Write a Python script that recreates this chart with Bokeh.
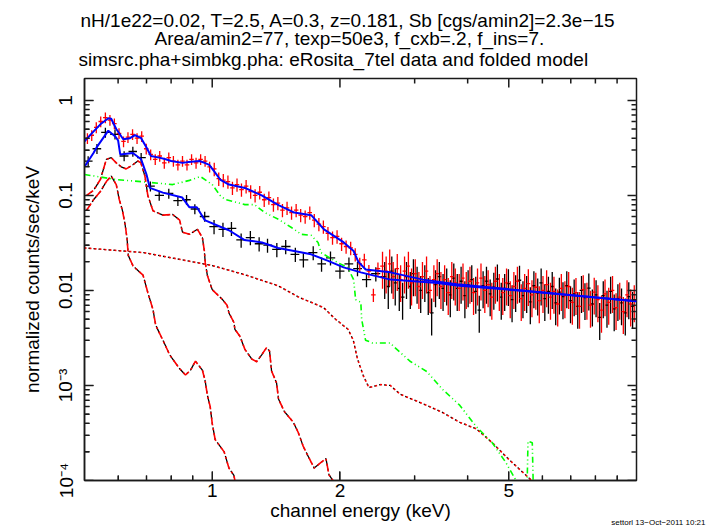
import numpy as np
from bokeh.plotting import figure
from bokeh.models import FixedTicker, Title
from bokeh.embed import file_html
from bokeh.resources import INLINE

FONT = "Liberation Sans"

# ---------------- folded models (blue) ----------------
mod_src_e = [0.50, 0.52, 0.545, 0.569, 0.578, 0.594, 0.617, 0.64, 0.658, 0.68, 0.70, 0.717, 0.75, 0.777,
             0.80, 0.851, 0.88, 0.933, 0.96, 0.984, 1.01, 1.044, 1.095, 1.194, 1.308, 1.433, 1.561, 1.711,
             1.834, 2.042, 2.154, 2.21, 2.30, 2.63, 3.14, 3.77, 5.37, 10.0]
mod_src_v = [0.37, 0.45, 0.56, 0.65, 0.64, 0.50, 0.39, 0.40, 0.43, 0.40, 0.32, 0.26, 0.25, 0.24,
             0.23, 0.22, 0.225, 0.23, 0.22, 0.21, 0.18, 0.147, 0.13, 0.12, 0.10, 0.079, 0.066, 0.062,
             0.044, 0.032, 0.026, 0.020, 0.0166, 0.0155, 0.013, 0.0116, 0.0100, 0.0077]

mod_bkg_e = [0.50, 0.525, 0.534, 0.569, 0.59, 0.60, 0.607, 0.65, 0.68, 0.70, 0.713, 0.765, 0.85, 0.884,
             0.92, 0.96, 1.055, 1.095, 1.19, 1.31, 1.43, 1.56, 1.71, 1.87, 2.04, 2.24, 2.63, 3.4, 3.77,
             5.37, 10.0]
mod_bkg_v = [0.20, 0.28, 0.32, 0.48, 0.42, 0.38, 0.27, 0.28, 0.24, 0.166, 0.12, 0.107, 0.095, 0.075,
             0.075, 0.055, 0.046, 0.043, 0.034, 0.032, 0.028, 0.026, 0.024, 0.0206, 0.0175, 0.0155, 0.013,
             0.012, 0.0113, 0.0099, 0.0077]

# ---------------- model components ----------------
cluster_e = [0.50, 0.594, 0.713, 0.807, 0.884, 0.938, 1.0, 1.044, 1.072, 1.194, 1.259, 1.329, 1.433,
             1.537, 1.621, 1.711, 1.776, 1.805, 1.977, 2.086, 2.154, 2.178, 2.24, 2.25, 2.298, 2.386,
             2.63, 2.67, 2.925, 3.205, 3.49, 3.83, 4.19, 4.57, 4.92, 5.2, 5.45, 5.52, 5.55, 5.68, 5.71, 6.0]
cluster_v = [0.166, 0.147, 0.137, 0.13, 0.144, 0.158, 0.13, 0.10, 0.091, 0.080, 0.080, 0.066, 0.056,
             0.046, 0.039, 0.038, 0.032, 0.025, 0.0196, 0.0175, 0.013, 0.008, 0.0075, 0.005, 0.003, 0.0028,
             0.0028, 0.0026, 0.0018, 0.0014, 0.00091, 0.00062, 0.00037, 0.00025, 0.000155, 0.0001,
             0.00007, 0.00008, 0.00026, 0.00025, 0.00009, 0.00005]

cxb_e = [0.50, 0.69, 1.0, 1.19, 1.43, 1.60, 1.83, 1.95, 2.09, 2.15, 2.20, 2.27, 2.34, 2.49, 2.63, 2.77,
         3.20, 3.49, 3.83, 4.19, 4.57, 5.0, 5.66, 6.0]
cxb_v = [0.028, 0.025, 0.0183, 0.0147, 0.0112, 0.0085, 0.0066, 0.005, 0.0039, 0.003, 0.0019, 0.00127,
         0.00095, 0.00102, 0.001, 0.00081, 0.00062, 0.00052, 0.00041, 0.00035, 0.00025, 0.000167,
         0.0001, 0.00007]

halo_e = [0.506, 0.525, 0.545, 0.563, 0.578, 0.594, 0.61, 0.627, 0.65, 0.668, 0.679, 0.694, 0.705, 0.725,
          0.765, 0.807, 0.838, 0.851, 0.884, 0.923, 0.948, 0.958, 0.963, 0.974, 1.0, 1.055, 1.084, 1.095,
          1.125, 1.131, 1.162, 1.194, 1.239, 1.273, 1.308, 1.343, 1.365, 1.38, 1.418, 1.433, 1.48, 1.553,
          1.595, 1.638, 1.683, 1.739, 1.805, 1.854, 1.884, 1.925, 2.0]
halo_v = [0.10, 0.113, 0.147, 0.24, 0.25, 0.22, 0.20, 0.19, 0.21, 0.23, 0.22, 0.16, 0.10, 0.069,
          0.062, 0.063, 0.055, 0.041, 0.039, 0.044, 0.036, 0.0263, 0.0195, 0.0144, 0.0102, 0.0081, 0.007,
          0.0058, 0.0046, 0.0039, 0.0033, 0.0024, 0.0019, 0.00178, 0.0021, 0.0025, 0.0023, 0.00142,
          0.00106, 0.00072, 0.00053, 0.00041, 0.00032, 0.00023, 0.00018, 0.000135, 0.000155, 0.00017,
          0.000115, 0.0001, 0.00007]

lhb_e = [0.506, 0.525, 0.545, 0.563, 0.578, 0.594, 0.604, 0.614, 0.623, 0.63, 0.634, 0.651, 0.687, 0.705,
         0.725, 0.736, 0.765, 0.794, 0.838, 0.865, 0.889, 0.913, 0.948, 0.963, 0.974, 0.989, 1.0, 1.016,
         1.067, 1.095, 1.125, 1.131, 1.16]
lhb_v = [0.07, 0.09, 0.11, 0.14, 0.16, 0.13, 0.09, 0.07, 0.05, 0.035, 0.0234, 0.018, 0.0145, 0.0095,
         0.0063, 0.0043, 0.003, 0.0021, 0.0015, 0.00129, 0.00145, 0.0018, 0.00145, 0.0011, 0.00079,
         0.0006, 0.0004, 0.00027, 0.0002, 0.000135, 0.000113, 0.0001, 0.00006]

# ---------------- data: simsrc (red) ----------------
src_e = [0.508, 0.520, 0.533, 0.546, 0.560, 0.574, 0.588, 0.603, 0.618, 0.633, 0.649, 0.665, 0.682,
         0.699, 0.716, 0.734, 0.752, 0.771, 0.790, 0.810, 0.830, 0.851, 0.872, 0.894, 0.916, 0.939,
         0.962, 0.986, 1.011, 1.036, 1.062, 1.089, 1.116, 1.144, 1.172, 1.202, 1.232, 1.262, 1.294,
         1.326, 1.360, 1.394, 1.428, 1.464, 1.501, 1.538, 1.577, 1.616, 1.656, 1.698, 1.740, 1.784,
         1.828, 1.874, 1.921, 1.969, 2.018, 2.068, 2.120, 2.173, 2.227, 2.283, 2.340, 2.398, 2.458,
         2.52, 2.57, 2.62, 2.67, 2.73, 2.78, 2.84, 2.90, 2.95, 3.01, 3.07, 3.13, 3.20, 3.26, 3.33,
         3.39, 3.46, 3.53, 3.60, 3.67, 3.74, 3.82, 3.90, 3.97, 4.05, 4.13, 4.22, 4.30, 4.39, 4.47,
         4.56, 4.65, 4.75, 4.84, 4.94, 5.04, 5.14, 5.24, 5.35, 5.45, 5.56, 5.67, 5.79, 5.90, 6.02,
         6.14, 6.27, 6.39, 6.52, 6.65, 6.78, 6.92, 7.06, 7.20, 7.34, 7.49, 7.64, 7.79, 7.95, 8.11,
         8.27, 8.43, 8.60, 8.78, 8.95, 9.13, 9.31, 9.50, 9.69, 9.88]
src_v = [0.40, 0.43, 0.52, 0.60, 0.66, 0.62, 0.57, 0.45, 0.37, 0.41, 0.44, 0.40, 0.42,
         0.31, 0.27, 0.24, 0.26, 0.22, 0.25, 0.23, 0.21, 0.23, 0.21, 0.24, 0.22, 0.24,
         0.23, 0.20, 0.19, 0.15, 0.145, 0.14, 0.12, 0.13, 0.115, 0.125, 0.11, 0.10, 0.108,
         0.090, 0.095, 0.080, 0.083, 0.070, 0.074, 0.066, 0.070, 0.062, 0.060, 0.066, 0.055, 0.050,
         0.047, 0.040, 0.036, 0.037, 0.031, 0.029, 0.028, 0.024, 0.019, 0.021, 0.016, 0.009, 0.017,
         0.018, 0.016, 0.019, 0.014, 0.017, 0.013, 0.016, 0.018, 0.012, 0.015, 0.011, 0.014, 0.016,
         0.010, 0.013, 0.015, 0.011, 0.013, 0.0095, 0.014, 0.012, 0.0105, 0.0135, 0.011, 0.0125,
         0.0095, 0.012, 0.0135, 0.010, 0.0115, 0.0085, 0.0125, 0.0105, 0.0095, 0.012, 0.0088, 0.0110,
         0.0125, 0.0082, 0.0105, 0.0118, 0.0090, 0.0108, 0.0078, 0.0100, 0.0115, 0.0085, 0.0098,
         0.0072, 0.0105, 0.0088, 0.0110, 0.0075, 0.0095, 0.0068, 0.0102, 0.0085, 0.0070, 0.0096,
         0.0080, 0.0062, 0.0092, 0.0075, 0.0100, 0.0066, 0.0085, 0.0060, 0.0090, 0.0072, 0.0080]

# ---------------- data: simbkg (black) ----------------
bkg_e = [0.51, 0.535, 0.56, 0.59, 0.62, 0.65, 0.68, 0.715, 0.75, 0.79, 0.83, 0.87, 0.91, 0.96, 1.01,
         1.06, 1.11, 1.17, 1.23, 1.29, 1.35, 1.42, 1.49, 1.57, 1.64, 1.73, 1.81, 1.90, 2.0, 2.1, 2.2,
         2.31, 2.43, 2.55, 2.60, 2.65, 2.70, 2.76, 2.81, 2.87, 2.93, 2.98, 3.04, 3.10, 3.17, 3.23,
         3.29, 3.36, 3.43, 3.50, 3.57, 3.64, 3.71, 3.78, 3.86, 3.94, 4.01, 4.09, 4.18, 4.26, 4.35,
         4.43, 4.52, 4.61, 4.70, 4.80, 4.89, 4.99, 5.09, 5.19, 5.30, 5.40, 5.51, 5.62, 5.73, 5.85,
         5.96, 6.08, 6.20, 6.33, 6.45, 6.58, 6.71, 6.85, 6.99, 7.13, 7.27, 7.42, 7.56, 7.72, 7.87,
         8.03, 8.19, 8.35, 8.52, 8.69, 8.86, 9.04, 9.22, 9.41, 9.59, 9.79]
bkg_v = [0.23, 0.31, 0.46, 0.44, 0.26, 0.29, 0.25, 0.125, 0.10, 0.105, 0.088, 0.09, 0.072, 0.06, 0.047,
         0.044, 0.045, 0.034, 0.036, 0.031, 0.030, 0.027, 0.029, 0.024, 0.021, 0.025, 0.019, 0.022,
         0.016, 0.019, 0.017, 0.013, 0.015, 0.014, 0.011, 0.016, 0.012, 0.0105, 0.0085, 0.014, 0.011,
         0.015, 0.0125, 0.010, 0.013, 0.0095, 0.0058, 0.0115, 0.014, 0.0105, 0.012, 0.009, 0.0135,
         0.0105, 0.0125, 0.0088, 0.0115, 0.013, 0.0098, 0.0062, 0.0112, 0.0125, 0.0092, 0.0108, 0.0132,
         0.0085, 0.0105, 0.0118, 0.0080, 0.0102, 0.0128, 0.0088, 0.0100, 0.0076, 0.0112, 0.0094,
         0.0120, 0.0082, 0.0098, 0.0110, 0.0074, 0.0096, 0.0086, 0.0112, 0.0078, 0.0092, 0.0068,
         0.0100, 0.0084, 0.0106, 0.0072, 0.0090, 0.0052, 0.0088, 0.0070, 0.0098, 0.0064, 0.0082,
         0.0074, 0.0058, 0.0086, 0.0068]

# relative 1-sigma error per energy band: (upper band edge keV, fraction)
src_err_bands = [(1.0, 0.13), (2.5, 0.16), (99.0, 0.42)]
bkg_err_bands = [(1.0, 0.12), (2.5, 0.17), (99.0, 0.42)]

X_MIN, X_MAX = 0.5, 10.0
Y_MIN, Y_MAX = 1e-4, 1.7
x_major = [1, 2, 5]
x_minor = [0.6, 0.7, 0.8, 0.9, 3, 4, 6, 7, 8, 9]
y_major = [1e-4, 1e-3, 1e-2, 1e-1, 1]
y_minor = [m * d for d in (1e-4, 1e-3, 1e-2, 1e-1, 1) for m in range(2, 10) if m * d < Y_MAX]
y_labels = {1e-4: "10\u207b\u2074", 1e-3: "10\u207b\u00b3", 1e-2: "0.01", 1e-1: "0.1", 1: "1"}

title_lines = ["nH/1e22=0.02, T=2.5, A=0.3, z=0.181, Sb [cgs/amin2]=2.3e\u221215",
               "Area/amin2=77, texp=50e3, f_cxb=.2, f_ins=7.",
               "simsrc.pha+simbkg.pha: eRosita_7tel data and folded model"]
footer = "settorl 13\u2212Oct\u22122011 10:21"

# page layout (pixels)
W, H = 713, 529
FL, FR, FT, FB = 84, 636, 78, 480
MAJ_LEN, MIN_LEN = 9, 5
AX_COL = "#1a1a1a"
# (offset from frame left, standoff) for title lines 1..3
title_place = [(-4, 8), (70, -18), (-6, 14)]

XDEC = np.log10(X_MAX / X_MIN) / (FR - FL)
YDEC = np.log10(Y_MAX / Y_MIN) / (FB - FT)


def bin_edges(e):
    e = np.asarray(e, dtype=float)
    mids = np.sqrt(e[1:] * e[:-1])
    lo = np.concatenate([[e[0] ** 2 / mids[0]], mids])
    hi = np.concatenate([mids, [e[-1] ** 2 / mids[-1]]])
    return lo, hi


def err_frac(e, bands):
    out = []
    for x in e:
        for top, f in bands:
            if x <= top:
                out.append(f)
                break
    return np.array(out)


p = figure(width=W, height=H, x_axis_type="log", y_axis_type="log",
           x_range=(X_MIN, X_MAX), y_range=(Y_MIN, Y_MAX),
           output_backend="svg", toolbar_location=None,
           min_border_left=FL, min_border_right=W - FR, min_border_top=FT, min_border_bottom=H - FB)
p.grid.visible = False
p.outline_line_color = AX_COL
p.outline_line_width = 1.5


def draw_data(e, v, bands, color):
    e = np.asarray(e, dtype=float)
    v = np.asarray(v, dtype=float)
    lo, hi = bin_edges(e)
    f = err_frac(e, bands)
    p.segment(x0=lo, y0=v, x1=hi, y1=v, line_color=color, line_width=1.3)
    p.segment(x0=e, y0=v * (1 - f), x1=e, y1=v * (1 + f), line_color=color, line_width=1.3)


draw_data(bkg_e, bkg_v, bkg_err_bands, "black")
draw_data(src_e, src_v, src_err_bands, "#ff0000")

# components: background (black, underneath) and source (red) copies
for col, off, lw in (("black", 6, 1.3), ("#ff0000", 0, 1.6)):
    p.line(cxb_e, cxb_v, line_color=col, line_width=lw, line_dash="2 3", line_dash_offset=off)
    p.line(halo_e, halo_v, line_color=col, line_width=lw, line_dash="8 3 2 3", line_dash_offset=off)
    p.line(lhb_e, lhb_v, line_color=col, line_width=lw, line_dash="8 3 2 3", line_dash_offset=off)

p.line(cluster_e, cluster_v, line_color="#00ff00", line_width=1.6, line_dash="6 3 1 3 1 3")

p.line(mod_bkg_e, mod_bkg_v, line_color="#0000ff", line_width=2)
p.line(mod_src_e, mod_src_v, line_color="#0000ff", line_width=2)

# inward tick marks on all four frame sides (drawn as glyphs, starting just inside the edge)
tick_xs, tick_ys = [], []
a = 10 ** (0.6 * YDEC)
for ticks, ln in ((x_major, MAJ_LEN), (x_minor, MIN_LEN)):
    b = 10 ** (ln * YDEC)
    for t in ticks:
        tick_xs += [[t, t], [t, t]]
        tick_ys += [[Y_MIN * a, Y_MIN * b], [Y_MAX / a, Y_MAX / b]]
a = 10 ** (0.6 * XDEC)
for ticks, ln in ((y_major, MAJ_LEN), (y_minor, MIN_LEN)):
    b = 10 ** (ln * XDEC)
    for t in ticks:
        tick_xs += [[X_MIN * a, X_MIN * b], [X_MAX / a, X_MAX / b]]
        tick_ys += [[t, t], [t, t]]
p.multi_line(xs=tick_xs, ys=tick_ys, line_color=AX_COL, line_width=1.5)


def style_axis(ax, major, minor):
    ax.ticker = FixedTicker(ticks=major, minor_ticks=minor)
    ax.major_tick_in = MAJ_LEN
    ax.major_tick_out = 0
    ax.minor_tick_in = MIN_LEN
    ax.minor_tick_out = 0
    ax.axis_line_color = AX_COL
    ax.axis_line_width = 1.5
    ax.major_tick_line_color = AX_COL
    ax.minor_tick_line_color = AX_COL
    ax.major_label_text_font = FONT
    ax.major_label_text_color = "black"
    ax.major_label_text_font_size = "19px"
    ax.axis_label_text_font = FONT
    ax.axis_label_text_font_size = "19px"
    ax.axis_label_text_font_style = "normal"
    ax.axis_label_text_color = "black"


xa = p.xaxis[0]
style_axis(xa, x_major, x_minor)
xa.major_label_overrides = {1: "1", 2: "2", 5: "5"}
xa.major_label_standoff = 3
xa.axis_label = "channel energy (keV)"
xa.axis_label_standoff = 0

ya = p.yaxis[0]
style_axis(ya, y_major, y_minor)
ya.major_label_overrides = y_labels
ya.major_label_orientation = "vertical"
ya.major_label_standoff = 8
ya.axis_label = "normalized counts/sec/keV"
ya.axis_label_standoff = 10

# title lines: first added sits closest to the frame, so add line 3 first
for txt, (off, so) in reversed(list(zip(title_lines, title_place))):
    p.add_layout(Title(text=txt, align="left", offset=off, standoff=so, vertical_align="top",
                       text_font=FONT, text_font_size="19px", text_font_style="normal",
                       text_color="black"), "above")

# small footer at the bottom right
p.add_layout(Title(text=footer, align="right", offset=-(W - FR - 8), standoff=-11, vertical_align="top",
                   text_font=FONT, text_font_size="8px", text_font_style="normal",
                   text_color="black"), "below")

open("out.html", "w").write(file_html(p, INLINE))
